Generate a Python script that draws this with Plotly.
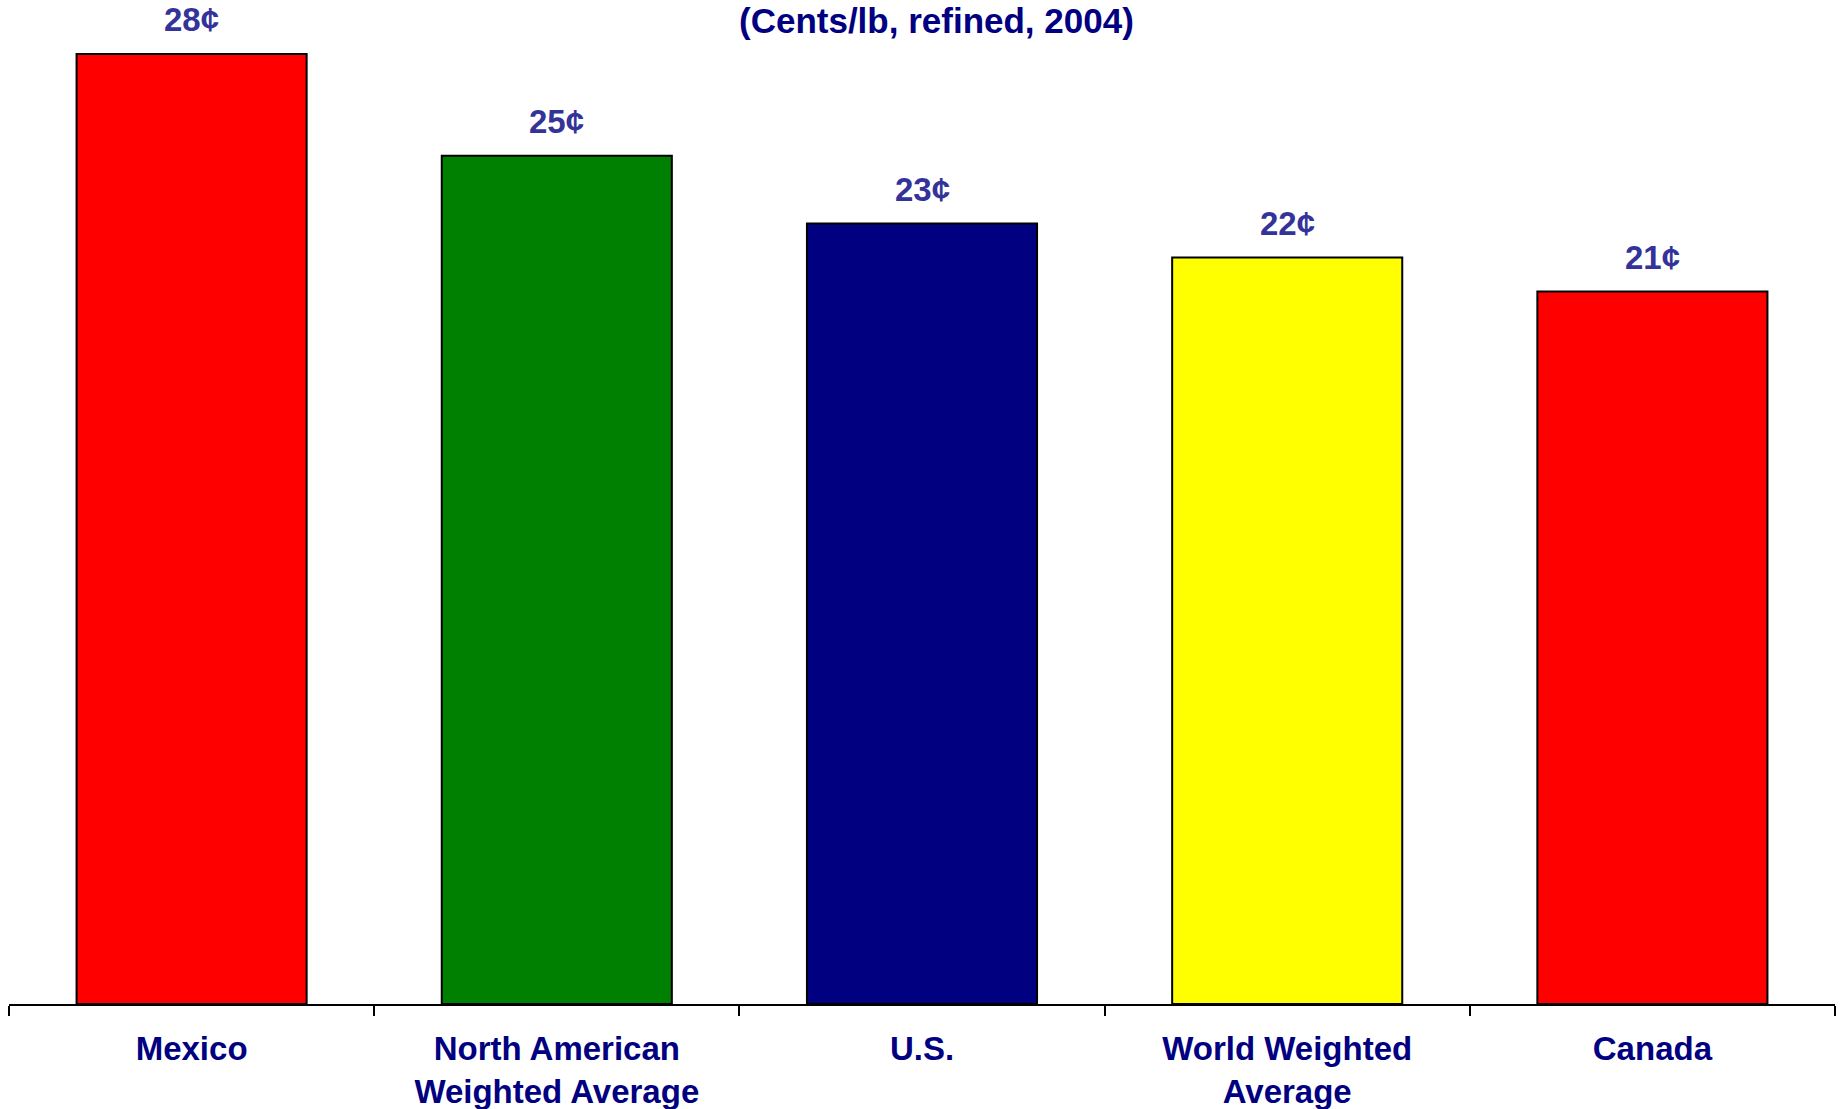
import plotly.graph_objects as go

# Refining cost per pound by region (cents/lb, refined, 2004)
categories = ["Mexico", "North American<br>Weighted Average", "U.S.",
              "World Weighted<br>Average", "Canada"]
values = [28, 25, 23, 22, 21]
bar_colors = ["#FF0000", "#008000", "#000080", "#FFFF00", "#FF0000"]
subtitle = "(Cents/lb, refined, 2004)"

FONT = "Liberation Sans, Arial, sans-serif"
NAVY = "#000080"
LABEL_BLUE = "#333399"

fig = go.Figure(
    go.Bar(
        x=categories,
        y=values,
        marker=dict(color=bar_colors, line=dict(color="#000000", width=2)),
        width=0.63,
        hoverinfo="skip",
    )
)

# value labels above each bar
for cat, v in zip(categories, values):
    fig.add_annotation(
        x=cat, y=v, text=f"<b>{v}¢</b>", showarrow=False,
        yanchor="middle", yshift=34,
        font=dict(family=FONT, size=33, color=LABEL_BLUE),
    )

fig.add_annotation(
    xref="paper", yref="paper", x=0.508, y=1.0,
    text=f"<b>{subtitle}</b>", showarrow=False, yanchor="middle",
    font=dict(family=FONT, size=35, color=NAVY),
)

fig.update_layout(
    width=1841, height=1109,
    margin=dict(l=9, r=6, t=20, b=105, autoexpand=False),
    paper_bgcolor="white", plot_bgcolor="white",
    showlegend=False,
    xaxis=dict(
        tickmode="array", tickvals=categories,
        ticktext=[f"<b>{c}</b>" for c in categories],
        tickson="boundaries", ticks="outside", ticklen=10,
        tickcolor="#000000", tickwidth=2,
        showline=True, linecolor="#000000", linewidth=2,
        tickfont=dict(family=FONT, size=33, color=NAVY),
        ticklabelstandoff=14, automargin=False,
        showgrid=False,
    ),
    yaxis=dict(range=[0, 29], visible=False, showgrid=False),
)

fig.write_html("out.html")
